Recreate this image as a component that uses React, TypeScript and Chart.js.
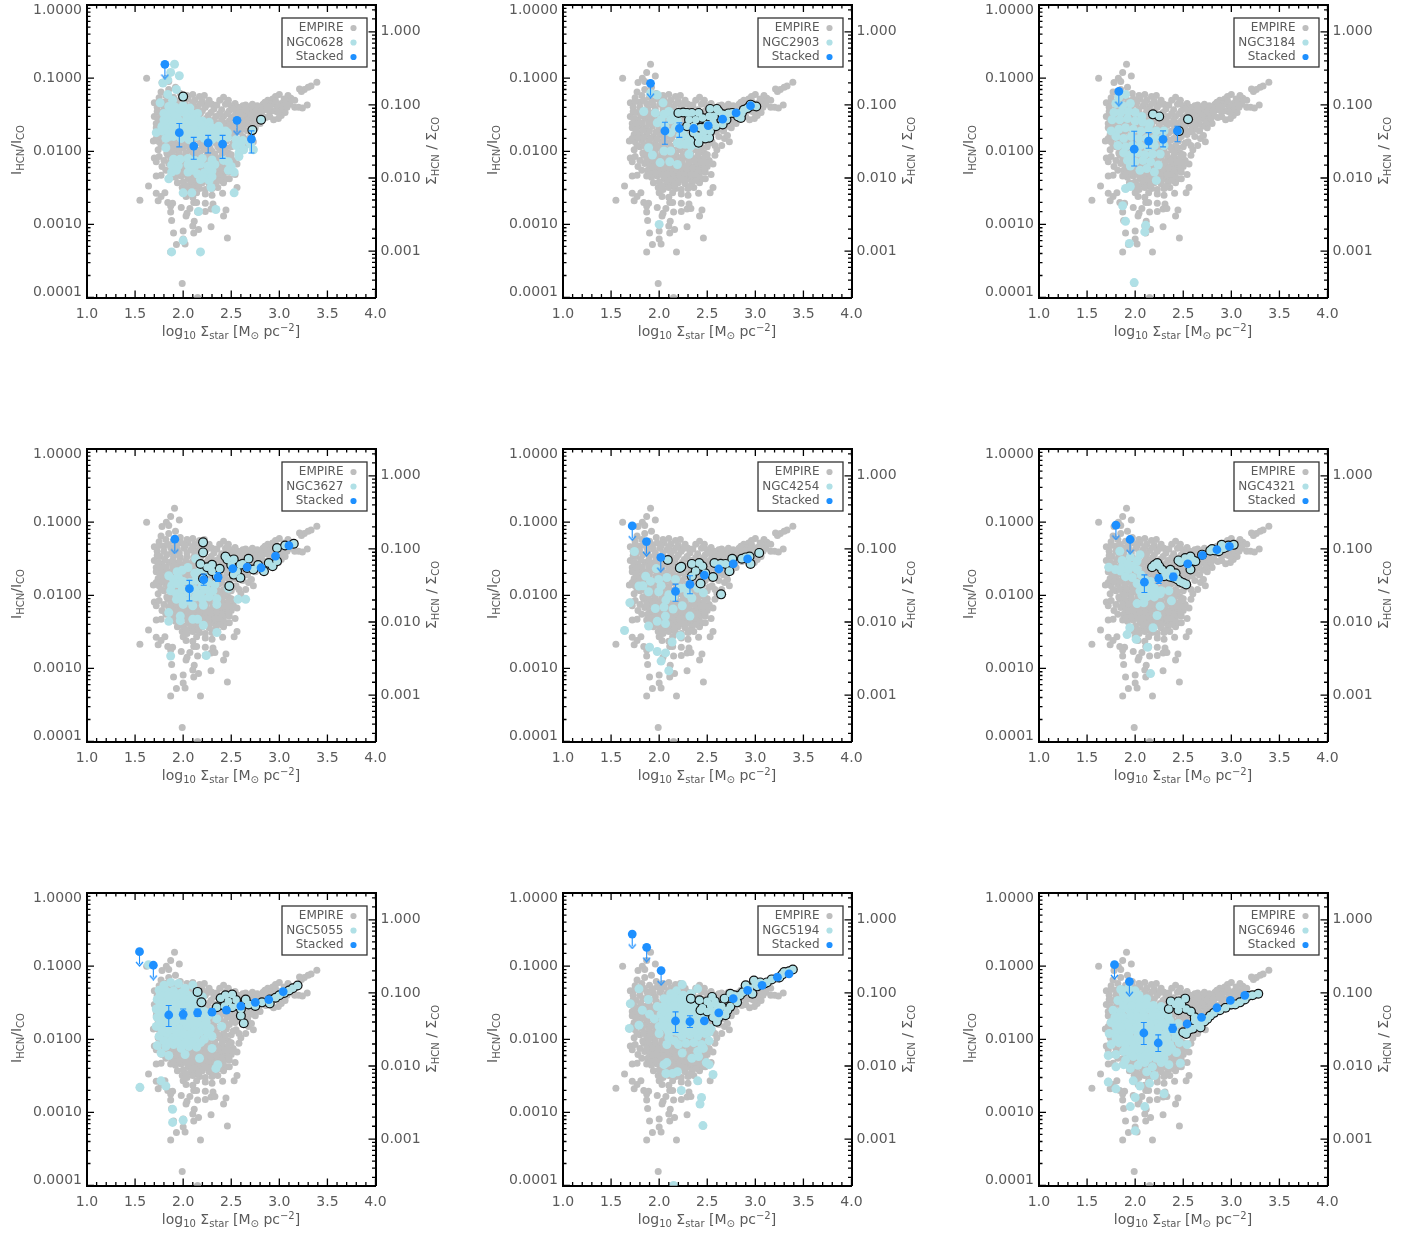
import React, { useEffect, useRef } from "react";
import { Chart, registerables } from "chart.js";

Chart.register(...registerables);

type P = number[];

const xTicksMin = 1.0;
const xTicksMax = 4.0;
const yLeftMin = 0.0001;
const yLeftMax = 1.0;
const yRightMin = 0.000232;
const yRightMax = 2.32;

const legendEmpire = "EMPIRE";
const legendStacked = "Stacked";

const empire: P[] = [
[3.39,.088],[3.33,.078],[3.3,.075],[3.26,.07],[3.23,.066],[3.21,.071],[3.16,.05],[3.12,.053],[3.09,.058],[3.05,.052],[3.0,.06],[2.96,.056],[2.93,.052],[3.02,.045],[3.07,.047],[3.11,.044],[3.16,.04],[3.2,.04],[3.24,.039],[3.29,.043],[2.88,.05],[2.83,.044],[2.87,.043],[2.91,.045],[2.95,.044],[2.98,.04],[3.03,.037],[3.06,.034],[3.02,.031],[2.97,.035],[2.93,.036],[2.89,.036],[2.85,.037],[2.8,.04],[2.77,.042],[2.73,.038],[2.69,.04],[2.65,.043],[2.62,.042],[2.7,.034],[2.74,.032],[2.78,.033],[2.82,.031],[2.86,.029],[2.9,.03],[2.94,.027],[2.99,.028],[2.76,.028],[2.72,.027],[2.68,.029],[2.64,.032],[2.6,.036],[2.57,.04],[2.54,.045],[2.5,.042],[2.47,.05],[2.42,.055],[2.38,.05],[2.8,.024],[2.75,.021],[2.7,.022],[2.66,.024],[2.62,.026],[2.58,.029],[2.55,.033],[2.67,.019],[2.63,.02],[2.59,.022],[2.55,.024],[2.62,.016],[2.68,.015],[2.73,.0135],[2.71,.0165],[2.65,.012],[2.58,.012],[2.6,.0105],[2.55,.0135],[2.54,.017],[2.52,.02],[2.58,.0088],[2.52,.0075],[2.47,.0095],[2.5,.0115],
[1.91,.155],[1.87,.12],[1.96,.107],[1.825,.1],[1.62,.1],[1.78,.087],[1.85,.09],[1.77,.065],[1.85,.07],[1.92,.075],[1.97,.062],[2.04,.058],[2.1,.06],[2.17,.056],[2.22,.058],[2.27,.05],[2.3,.044],[2.2,.048],[2.12,.05],[2.05,.052],[1.98,.052],[1.9,.055],[1.82,.058],[1.75,.054],[1.7,.046],[1.73,.04],[1.8,.047],[1.87,.045],[1.94,.043],[2.01,.044],[2.08,.042],[2.15,.041],[2.23,.04],[2.32,.038],[2.4,.037],[2.48,.036],
[1.7,.03],[1.76,.034],[1.83,.036],[1.9,.034],[1.97,.033],[2.04,.034],[2.11,.033],[2.18,.033],[2.26,.031],[2.34,.03],[2.42,.03],[2.5,.029],[1.72,.024],[1.78,.027],[1.85,.028],[1.92,.027],[1.99,.026],[2.06,.027],[2.13,.025],[2.2,.026],[2.28,.025],[2.36,.024],[2.44,.024],[1.72,.021],[1.79,.022],[1.86,.021],[1.93,.022],[2.0,.021],[2.07,.02],[2.14,.021],[2.22,.02],[2.3,.02],[2.38,.019],[2.46,.02],[1.69,.0138],[1.74,.017],[1.8,.018],[1.87,.017],[1.94,.016],[2.01,.017],[2.08,.016],[2.16,.017],[2.24,.016],[2.32,.016],[2.4,.015],[2.48,.016],[1.75,.0135],[1.82,.014],[1.89,.0135],[1.96,.013],[2.03,.0135],[2.1,.013],[2.18,.013],[2.26,.0125],[2.34,.013],[2.42,.012],[1.74,.0105],[1.8,.0115],[1.87,.011],[1.94,.0105],[2.0,.011],[2.07,.0105],[2.14,.0105],[2.22,.0105],[2.3,.01],[2.38,.0105],[2.44,.01],
[1.7,.0081],[1.72,.0072],[1.75,.0085],[1.8,.0075],[1.78,.0062],[1.84,.0088],[1.9,.0085],[1.96,.0082],[2.02,.0085],[2.08,.008],[2.14,.0082],[2.2,.0082],[2.27,.0083],[2.34,.0082],[2.4,.0085],[2.46,.008],[1.85,.0068],[1.82,.0055],[1.9,.0065],[1.96,.0068],[2.02,.0064],[2.08,.0066],[2.14,.0062],[2.2,.0066],[2.26,.0064],[2.32,.0063],[2.38,.0066],[2.44,.0062],[2.5,.0062],[2.56,.0067],[1.88,.0055],[1.94,.0053],[2.0,.0055],[2.06,.0052],[2.12,.0054],[2.18,.0052],[2.24,.0054],[2.3,.0051],[2.36,.0053],[2.42,.005],[2.48,.0052],[2.54,.0048],[1.72,.0046],[1.77,.0047],[1.87,.0046],[1.92,.0044],[1.98,.0046],[2.05,.0042],[2.12,.0044],[2.18,.0042],[2.23,.0044],[2.3,.0042],[2.36,.0044],[2.45,.0042],[2.48,.0042],[1.94,.0037],[2.0,.0038],[2.08,.0036],[2.14,.0037],[2.2,.0037],[2.27,.0036],[2.34,.0037],[2.42,.0037],[2.56,.0032],[1.64,.00335],[1.99,.0032],[2.04,.003],[2.1,.0032],[2.17,.0031],[2.23,.003],[2.3,.0031],[2.36,.0032],[1.72,.00266],[1.81,.0027],[1.77,.0024],[2.0,.0027],[2.03,.0024],[2.1,.00235],[2.41,.00266],[2.53,.0027],[2.14,.0027],[2.23,.0026],[2.3,.0025],
[1.55,.00214],[1.74,.0021],[1.84,.002],[1.89,.00195],[1.87,.00178],[2.11,.002],[2.14,.002],[2.23,.00195],[2.31,.0019],[1.98,.0017],[2.07,.00165],[1.87,.00148],[2.15,.00148],[2.23,.0015],[2.29,.00163],[2.33,.00165],[2.445,.00158],[2.04,.00142],[2.03,.0013],[2.42,.0013],[1.88,.00113],[2.115,.0011],[2.1,.00095],[2.29,.00093],[2.0,.00081],[2.16,.00085],[1.9,.00076],[2.11,.00076],[2.46,.00065],[2.0,.00063],[2.02,.00054],[1.93,.00053],[1.87,.00042],[2.18,.00042],[1.99,.000155],[2.15,.0001]
];
const empireFill: P[] = [
[1.75,.048],[1.84,.05],[1.93,.049],[2.02,.048],[2.1,.046],[2.18,.045],[2.26,.044],[2.35,.043],[2.44,.044],[1.73,.035],[1.8,.04],[1.88,.039],[1.96,.038],[2.04,.038],[2.12,.037],[2.2,.036],[2.29,.034],[2.38,.033],[2.46,.033],[2.54,.031],[1.74,.028],[1.81,.031],[1.89,.03],[1.96,.029],[2.03,.03],[2.1,.029],[2.16,.029],[2.24,.028],[2.32,.027],[2.4,.027],[2.48,.026],[2.56,.027],
[1.76,.024],[1.82,.024],[1.89,.0245],[1.96,.024],[2.03,.0235],[2.1,.023],[2.17,.023],[2.25,.0225],[2.33,.0225],[2.41,.022],[2.49,.023],[1.76,.0195],[1.83,.0195],[1.9,.019],[1.97,.0185],[2.04,.0185],[2.11,.0185],[2.19,.0185],[2.27,.018],[2.35,.018],[2.43,.0175],[2.51,.0175],[2.59,.0185],[1.72,.015],[1.78,.0155],[1.84,.0155],[1.91,.015],[1.98,.0148],[2.05,.015],[2.13,.0148],[2.21,.0145],[2.29,.0142],[2.37,.0142],[2.45,.0138],[1.77,.012],[1.84,.0122],[1.91,.012],[1.98,.0118],[2.05,.0118],[2.12,.0118],[2.2,.0115],[2.28,.0112],[2.36,.0115],[2.44,.0112],[2.52,.013],
[1.83,.0095],[1.89,.0097],[1.96,.0093],[2.03,.0095],[2.1,.0092],[2.17,.0094],[2.25,.0092],[2.33,.0092],[2.41,.0094],[2.5,.009],[1.87,.0076],[1.93,.0075],[1.99,.0073],[2.05,.0074],[2.11,.0072],[2.17,.0073],[2.24,.0074],[2.31,.0072],[2.37,.0074],[2.43,.0072],[2.49,.007],[1.93,.006],[1.99,.006],[2.05,.0059],[2.11,.0059],[2.17,.0058],[2.23,.0059],[2.29,.0057],[2.35,.0059],[2.41,.0056],[2.47,.0058],[1.9,.0049],[1.96,.005],[2.03,.0048],[2.09,.0048],[2.15,.0047],[2.21,.0048],[2.27,.0047],[2.33,.0048],[2.39,.0046],[2.03,.0034],[2.11,.0041],[2.16,.0034],[2.25,.0041],[2.32,.0033],[2.39,.004],
[2.46,.046],[2.52,.038],[2.58,.034],[2.66,.037],[2.72,.044],[2.76,.036],[2.81,.036],[2.85,.047],[2.9,.041],[2.96,.049],[2.99,.034],[3.04,.042],[3.08,.04],[2.74,.025],[2.79,.028],[2.7,.03],[2.66,.027],[2.61,.031],[2.57,.025],[2.57,.019],[2.62,.023]
];

const ngc0628Cyan: P[] = [
[1.91,.155],[1.87,.12],[1.96,.108],[1.79,.086],[1.84,.095],[1.93,.07],[1.84,.06],[1.76,.046],[1.89,.05],
[1.85,.041],[1.92,.04],[2.0,.042],[2.07,.039],[1.8,.033],[1.87,.034],[1.95,.033],[2.02,.034],[2.1,.032],[2.15,.033],[1.8,.027],[1.88,.028],[1.96,.026],[2.04,.027],[2.12,.028],[2.2,.026],[2.27,.025],[1.78,.022],[1.86,.023],[1.93,.021],[2.0,.022],[2.08,.023],[2.15,.021],[2.23,.022],[2.3,.021],[2.37,.022],[1.72,.018],[1.78,.019],[1.85,.018],[1.93,.019],[2.0,.017],[2.08,.018],[2.16,.019],[2.24,.018],[2.32,.017],[2.4,.019],[2.46,.018],[1.82,.015],[1.9,.016],[1.98,.015],[2.06,.0145],[2.14,.016],[2.22,.015],[2.3,.0145],[2.38,.015],[2.46,.0155],[2.55,.0145],[2.62,.014],[1.82,.0112],[2.55,.012],[2.6,.0125],[2.7,.0125],[2.73,.0105],[2.58,.0095],[2.63,.0105],[1.9,.0078],[1.97,.0078],[2.05,.008],[2.12,.0075],[2.2,.008],[2.3,.0076],[2.42,.0075],[2.58,.0085],[1.88,.0065],[1.95,.0064],[2.05,.0066],[2.12,.0062],[2.18,.0067],[2.26,.0063],[2.33,.0066],[2.47,.0072],[2.5,.0062],[1.88,.0052],[1.93,.0055],[2.05,.0052],[2.1,.0055],[2.15,.0049],[2.22,.0051],[2.27,.0049],[2.3,.0054],[2.47,.0055],[2.53,.0052],[1.85,.0042],[2.18,.0041],[2.22,.0043],[2.27,.004],[2.3,.0045],
[2.0,.0027],[2.09,.0027],[2.53,.0027],[2.29,.0032],[2.16,.0015],[2.34,.0016],[2.0,.0006],[1.88,.00042],[2.18,.00042],
[1.88,.037],[1.96,.037],[2.04,.03],[1.84,.03],[1.92,.03],[2.08,.028],[2.16,.026],[1.82,.024],[1.9,.025],[1.97,.024],[2.04,.024],[2.11,.024],[2.19,.023],[1.78,.021],[1.83,.02],[1.89,.02],[1.96,.0195],[2.04,.02],[2.12,.02],[2.2,.02],[2.28,.019],[2.36,.019],[2.44,.019],[1.86,.016],[1.94,.017],[2.02,.016],[2.1,.016],[2.18,.0165],[2.26,.0165],[2.34,.016]
];
const ngc0628Outlined: P[] = [[2.0,.056],[2.72,.0195],[2.81,.027]];
const ngc0628Stacked: P[] = [[1.96,.018,.0115,.024],[2.11,.0118,.0078,.0155],[2.26,.013,.0095,.0165],[2.41,.0125,.008,.0165],[2.71,.0147,.0095,.019]];
const ngc0628Limits: P[] = [[1.81,.155],[2.56,.0265]];

const ngc2903Cyan: P[] = [
[1.98,.059],[1.91,.062],[2.04,.046],[1.84,.035],[1.96,.0335],[2.05,.032],[1.98,.0245],[2.12,.027],[2.19,.026],[1.89,.0112],[1.93,.0089],[2.01,.007],[2.11,.0072],[2.19,.0066],[2.05,.0101],[2.12,.0101],[2.22,.0125],[2.31,.0091],[2.33,.0118],[2.22,.0162],[2.31,.0153],[2.4,.0125],[2.0,.001],[2.12,.018],[2.19,.013],[2.26,.02],[2.06,.022],[2.02,.027],[2.1,.035],[2.16,.032],[2.25,.0165],[2.17,.021],[2.27,.0125],[2.36,.0145]
];
const ngc2903Outlined: P[] = [[2.2,.0335],[2.25,.034],[2.29,.0335],[2.34,.0335],[2.41,.0335],[2.31,.027],[2.38,.027],[2.45,.0285],[2.52,.03],[2.53,.038],[2.6,.038],[2.57,.03],[2.66,.032],[2.76,.0335],[2.85,.0285],[2.92,.039],[2.95,.0435],[3.01,.041],[2.86,.0335],[2.29,.022],[2.36,.018],[2.41,.0131],[2.4,.0162],[2.52,.0153],[2.53,.0188],[2.46,.018],[2.59,.022],[2.66,.0233],[2.5,.0233],[2.43,.021],[2.36,.022],[2.47,.021],[2.56,.025],[2.7,.027],[2.82,.03],[2.88,.037],[2.48,.015],[2.42,.015],[2.62,.035],[2.72,.033],[2.97,.042]];
const ngc2903Stacked: P[] = [[2.06,.019,.0125,.025],[2.21,.0205,.0155,.0245],[2.36,.0205,.019,.022],[2.51,.0225,.021,.024],[2.66,.0275,.026,.029],[2.8,.0335,.032,.035],[2.95,.042,.04,.044]];
const ngc2903Limits: P[] = [[1.91,.085]];

const ngc3184Cyan: P[] = [
[1.83,.055],[1.9,.06],[1.8,.045],[1.87,.042],[1.95,.045],[1.78,.034],[1.85,.034],[1.93,.035],[2.0,.034],[2.07,.03],[1.76,.027],[1.84,.027],[1.92,.028],[2.0,.026],[2.08,.025],[2.15,.024],[1.75,.019],[1.83,.02],[1.9,.021],[1.98,.02],[2.06,.019],[2.14,.02],[2.22,.019],[2.3,.019],[1.8,.016],[1.88,.015],[1.96,.016],[2.04,.015],[2.12,.015],[2.2,.015],[2.28,.015],[1.82,.012],[1.9,.0115],[1.97,.012],[2.05,.012],[2.13,.0115],[2.2,.012],[2.3,.012],[1.88,.0095],[1.95,.009],[2.03,.0095],[2.1,.009],[2.18,.0092],[2.26,.0092],[1.92,.0075],[2.0,.0072],[2.08,.0075],[2.16,.0072],[2.24,.0065],[1.95,.0063],[2.05,.0055],[2.12,.0058],[2.2,.0052],[2.22,.004],[1.9,.0031],[1.95,.0033],[1.87,.0018],[1.9,.0011],[1.94,.00055],[2.11,.00097],[2.1,.00079],[1.99,.00016]
];
const ngc3184Outlined: P[] = [[2.185,.032],[2.25,.03],[2.55,.0275],[2.455,.0189]];
const ngc3184Stacked: P[] = [[1.99,.0107,.0063,.0188],[2.14,.0138,.011,.018],[2.29,.0146,.0115,.019],[2.44,.019,.0135,.022]];
const ngc3184Limits: P[] = [[1.83,.066]];

const ngc3627Cyan: P[] = [
[2.13,.0316],[1.937,.021],[1.9,.0165],[1.95,.0175],[1.85,.0185],[1.99,.022],[2.05,.024],[2.12,.02],[2.18,.022],[2.25,.021],[1.88,.0135],[1.94,.0145],[2.0,.0155],[2.07,.015],[2.13,.016],[2.2,.0135],[2.26,.015],[2.33,.014],[1.87,.0115],[1.93,.0105],[1.99,.012],[2.05,.011],[2.12,.012],[2.18,.0105],[2.24,.012],[2.31,.0115],[1.93,.0088],[1.99,.0092],[2.06,.0085],[2.13,.0095],[2.2,.0088],[2.27,.0095],[2.35,.009],[2.0,.0075],[2.1,.0072],[2.21,.0073],[2.35,.0075],[2.57,.0088],[2.65,.0088],[2.47,.0125],
[1.85,.0058],[1.85,.0044],[1.97,.0052],[1.97,.0045],[2.1,.0047],[2.15,.0047],[2.21,.0039],[2.35,.0031],[1.87,.00148],[2.24,.0015]
];
const ngc3627Outlined: P[] = [[2.207,.053],[2.207,.0386],[2.18,.0268],[2.25,.0242],[2.3,.0213],[2.3,.0262],[2.38,.0231],[2.44,.034],[2.46,.031],[2.526,.031],[2.595,.0262],[2.68,.0316],[2.56,.0213],[2.595,.0174],[2.526,.0192],[2.73,.0225],[2.84,.0213],[2.89,.0277],[2.976,.0292],[2.976,.0443],[3.06,.048],[3.15,.0507],[2.48,.0134],[2.207,.017],[2.35,.0182],[2.665,.0237],[2.78,.026],[2.62,.027],[2.5,.026],[2.93,.025]];
const ngc3627Stacked: P[] = [[2.065,.0123,.0084,.016],[2.214,.0164,.0137,.0195],[2.363,.0177,.0155,.0205],[2.516,.0232,.022,.0245],[2.665,.0243,.023,.0255],[2.81,.0238,.0225,.025],[2.96,.0344,.033,.036],[3.1,.0477,.046,.049]];
const ngc3627Limits: P[] = [[1.913,.0586]];

const ngc4254Cyan: P[] = [
[1.743,.0398],[1.97,.0232],[1.86,.0182],[1.79,.0134],[1.91,.0155],[1.995,.0165],[2.08,.0175],[2.17,.0165],[1.89,.0112],[1.995,.0112],[2.1,.0102],[2.22,.0125],[2.34,.0092],[2.46,.0108],[1.695,.0079],[1.96,.0066],[2.05,.0069],[2.145,.0065],[2.24,.0072],[2.32,.0052],[2.065,.0052],[1.98,.0044],[1.89,.0038],[2.066,.0041],[1.64,.0033],[2.22,.0028],[2.135,.0023],[1.9,.00195],[1.98,.0017],[2.066,.00163],[2.02,.00126],[2.1,.00093],[1.83,.0135],[2.02,.0135],[2.27,.0125],[2.4,.0125],[2.15,.0095],[2.3,.0105],[2.07,.0086]
];
const ngc4254Outlined: P[] = [[2.09,.0304],[2.215,.0237],[2.23,.0245],[2.34,.0269],[2.416,.0276],[2.45,.025],[2.575,.0276],[2.76,.0316],[2.69,.0269],[2.73,.0214],[2.86,.0316],[2.94,.034],[3.04,.038],[2.95,.0269],[2.34,.0182],[2.43,.0145],[2.56,.0178],[2.644,.0103],[2.48,.02],[2.38,.0215],[2.64,.027],[2.9,.033]];
const ngc4254Stacked: P[] = [[2.17,.0113,.0083,.0142],[2.32,.0141,.0105,.0185],[2.47,.0188,.0175,.02],[2.62,.0229,.022,.024],[2.77,.0269,.026,.028],[2.92,.0314,.03,.033]];
const ngc4254Limits: P[] = [[1.72,.089],[1.868,.0544],[2.017,.033]];

const ngc4321Cyan: P[] = [
[1.84,.04],[1.95,.0333],[2.05,.036],[1.725,.0242],[1.795,.0225],[1.865,.03],[1.85,.0215],[1.93,.0225],[2.02,.0295],[2.02,.0225],[1.97,.0175],[2.02,.0145],[2.09,.0125],[2.16,.0155],[2.07,.01],[2.16,.01],[2.26,.0105],[2.02,.0077],[2.09,.0079],[2.377,.0084],[2.26,.0071],[2.228,.0053],[1.944,.0036],[1.916,.0029],[2.01,.0025],[2.186,.0036],[2.13,.00195],[2.16,.00085],[1.9,.018],[2.13,.0125],[2.2,.0125],[2.27,.0115],[2.35,.0115],[2.1,.0165],[2.05,.0115],[1.87,.025],[1.97,.025],[2.06,.019],[2.12,.0095],[2.2,.0095],[1.92,.027],[2.21,.0105]
];
const ngc4321Outlined: P[] = [[2.176,.0242],[2.2,.026],[2.23,.0277],[2.25,.025],[2.28,.0224],[2.33,.0205],[2.366,.0224],[2.3,.0182],[2.36,.018],[2.4,.0174],[2.44,.0165],[2.47,.0153],[2.5,.0147],[2.53,.0141],[2.42,.02],[2.45,.03],[2.47,.0286],[2.52,.0323],[2.54,.029],[2.575,.034],[2.6,.03],[2.626,.0292],[2.575,.0225],[2.696,.036],[2.78,.0407],[2.8,.043],[2.83,.041],[2.87,.04],[2.92,.044],[2.9,.049],[2.97,.048],[3.025,.049],[2.95,.046]];
const ngc4321Stacked: P[] = [[2.096,.0151,.0109,.019],[2.245,.0169,.0145,.019],[2.397,.0179,.016,.02],[2.547,.0269,.025,.029],[2.7,.0352,.034,.037],[2.85,.042,.04,.044],[2.98,.0466,.045,.048]];
const ngc4321Limits: P[] = [[1.8,.091],[1.947,.058]];

const ngc5055Cyan: P[] = [
[1.64,.105],[1.55,.0022],[1.77,.0027],[1.82,.0023],[1.89,.0011],[1.89,.00073],[2.0,.00078],[2.34,.004],[1.8,.055],[1.87,.06],[1.95,.058],[2.02,.05],[2.1,.055],[1.75,.047],[1.83,.045],[1.9,.046],[1.98,.043],[2.05,.04],[2.13,.042],[1.73,.035],[1.8,.036],[1.88,.035],[1.95,.034],[2.03,.032],[2.1,.034],[2.2,.038],[1.72,.026],[1.8,.027],[1.87,.028],[1.95,.026],[2.03,.025],[2.1,.026],[2.18,.028],[1.73,.02],[1.8,.021],[1.88,.02],[1.96,.021],[2.03,.02],[2.1,.019],[2.18,.02],[2.26,.021],[2.35,.019],[1.72,.015],[1.8,.016],[1.88,.015],[1.96,.014],[2.04,.015],[2.12,.014],[2.2,.015],[2.28,.014],[2.4,.015],[1.75,.011],[1.83,.012],[1.9,.0105],[1.97,.011],[2.05,.01],[2.13,.011],[2.22,.01],[2.3,.011],[1.73,.0082],[1.82,.008],[1.9,.0085],[1.98,.0075],[2.06,.008],[2.14,.0078],[2.3,.0075],[1.77,.0065],[1.85,.006],[2.02,.0062],[2.17,.0055],[2.36,.0045],
[1.76,.04],[1.84,.04],[1.92,.04],[2.0,.037],[2.08,.037],[1.76,.03],[1.84,.031],[1.92,.031],[1.99,.029],[2.07,.029],[2.14,.031],[1.76,.023],[1.84,.023],[1.92,.023],[1.99,.023],[2.07,.022],[2.14,.023],[2.22,.024],[1.76,.0175],[1.84,.018],[1.92,.0175],[2.0,.0175],[2.07,.0165],[2.15,.017],[2.24,.017],[1.78,.013],[1.86,.0135],[1.93,.0125],[2.0,.012],[2.08,.012],[2.17,.0125],[2.25,.0125],[1.8,.0095],[1.87,.0095],[1.94,.0092],[2.02,.009],[2.1,.0092],[2.18,.009]
];
const ngc5055Outlined: P[] = [[2.19,.032],[2.15,.0445],[2.39,.0365],[2.44,.04],[2.51,.041],[2.47,.033],[2.51,.0275],[2.63,.0166],[2.43,.0285],[2.57,.029],[2.6,.026],[2.6,.021],[2.65,.035],[2.68,.03],[2.75,.0285],[2.82,.032],[2.9,.035],[2.96,.037],[3.0,.04],[3.05,.043],[3.14,.05],[3.19,.0545],[2.9,.031],[2.55,.0345],[2.35,.0275],[3.1,.0465]];
const ngc5055Stacked: P[] = [[1.85,.0215,.015,.029],[2.0,.022,.019,.026],[2.15,.023,.0205,.026],[2.3,.0235,.0215,.026],[2.45,.025,.023,.027],[2.6,.0285,.027,.03],[2.75,.032,.031,.033],[2.89,.035,.034,.036],[3.04,.045,.044,.046]];
const ngc5055Limits: P[] = [[1.546,.158],[1.69,.103]];

const ngc5194Cyan: P[] = [
[1.79,.049],[1.7,.0307],[1.69,.0141],[1.79,.0156],[1.825,.025],[1.887,.035],[2.24,.056],[2.4,.049],[2.33,.042],[2.56,.0033],[2.4,.0027],[2.23,.002],[2.44,.0016],[2.425,.0013],[2.455,.00066],[2.15,.0001],
[1.9,.022],[1.98,.028],[2.05,.036],[2.12,.042],[2.18,.046],[2.25,.04],[1.95,.019],[2.02,.022],[2.09,.029],[2.16,.033],[2.22,.03],[2.29,.034],[2.36,.03],[2.0,.015],[2.07,.018],[2.14,.024],[2.2,.024],[2.27,.026],[2.35,.024],[2.42,.026],[2.0,.012],[2.08,.014],[2.14,.018],[2.22,.018],[2.3,.02],[2.38,.019],[2.46,.021],[2.1,.0105],[2.16,.013],[2.24,.014],[2.32,.015],[2.4,.015],[2.48,.0155],[2.54,.014],[2.08,.0085],[2.16,.0095],[2.24,.011],[2.32,.0115],[2.4,.011],[2.48,.012],[2.2,.0085],[2.28,.0088],[2.36,.009],[2.44,.0085],[2.52,.0095],[2.24,.0065],[2.34,.0055],[2.4,.0068],[2.46,.0075],[2.05,.0045],[2.08,.0048],[2.19,.0036],[2.07,.0034],[2.14,.0034],[2.52,.0045],[2.49,.0048],[2.41,.0058],
[2.04,.028],[2.1,.036],[2.16,.038],[2.22,.036],[2.05,.024],[2.11,.025],[2.17,.028],[2.24,.027],[2.31,.028],[2.38,.027],[2.04,.018],[2.1,.02],[2.17,.021],[2.25,.021],[2.33,.022],[2.41,.022],[2.06,.015],[2.13,.015],[2.2,.016],[2.28,.017],[2.36,.017],[2.44,.017],[2.1,.0125],[2.2,.0125],[2.28,.013],[2.36,.013],[2.44,.013],[2.52,.0125]
];
const ngc5194Outlined: P[] = [[2.33,.036],[2.42,.0342],[2.55,.038],[2.5,.033],[2.58,.033],[2.535,.029],[2.45,.027],[2.43,.025],[2.5,.024],[2.6,.029],[2.65,.028],[2.63,.025],[2.56,.02],[2.62,.02],[2.71,.025],[2.74,.028],[2.69,.0214],[2.6,.0174],[2.66,.022],[2.74,.042],[2.68,.036],[2.78,.04],[2.81,.032],[2.8,.036],[2.84,.04],[2.87,.044],[2.94,.05],[2.9,.0547],[3.0,.056],[2.985,.0638],[2.97,.042],[3.05,.06],[3.09,.0575],[3.02,.053],[3.12,.06],[3.17,.066],[3.25,.07],[3.28,.077],[3.35,.085],[3.3,.083],[3.39,.09],[2.56,.024]];
const ngc5194Stacked: P[] = [[2.17,.0178,.0124,.0237],[2.32,.0174,.0145,.021],[2.47,.0179,.017,.019],[2.62,.023,.022,.024],[2.77,.036,.035,.037],[2.92,.0467,.045,.048],[3.07,.0547,.053,.056],[3.23,.0708,.069,.073],[3.35,.0787,.077,.08]];
const ngc5194Limits: P[] = [[1.72,.275],[1.87,.181],[2.02,.087]];

const ngc6946Cyan: P[] = [
[1.72,.0026],[1.8,.0021],[2.0,.00056],[2.1,.0012],[2.3,.0018],[1.95,.0012],[2.0,.0016],[2.15,.0025],[2.05,.0023],[1.98,.0027],[2.2,.0032],[2.12,.0036],[1.8,.0042],[1.88,.0045],[1.95,.004],[2.03,.0044],[2.1,.0048],[2.18,.0042],[2.27,.0048],[2.35,.0045],[2.47,.0047],[1.72,.006],[1.8,.0062],[1.88,.0068],[1.95,.0063],[2.03,.0068],[2.1,.0065],[2.18,.0068],[2.26,.0064],[2.34,.0068],[2.43,.0066],[1.75,.0085],[1.83,.009],[1.9,.0085],[1.98,.0092],[2.05,.0085],[2.13,.009],[2.2,.0085],[2.28,.009],[2.36,.0085],[2.46,.009],[2.54,.0085],[1.73,.012],[1.8,.0125],[1.88,.012],[1.95,.013],[2.03,.012],[2.1,.0125],[2.18,.013],[2.25,.012],[2.33,.0125],[2.42,.012],[2.5,.0125],[1.75,.017],[1.83,.018],[1.9,.017],[1.98,.018],[2.05,.0175],[2.13,.017],[2.2,.018],[2.28,.017],[2.36,.018],[2.45,.0165],[1.77,.025],[1.85,.024],[1.93,.026],[2.0,.024],[2.08,.025],[2.15,.026],[2.22,.023],[2.3,.024],[1.82,.034],[1.9,.035],[1.97,.034],[2.05,.033],[2.12,.036],[1.85,.048],[1.93,.05],[2.0,.046],
[1.9,.0075],[1.98,.0075],[2.06,.0074],[2.14,.0075],[2.22,.0075],[2.3,.0076],[2.38,.0075],[1.8,.0105],[1.87,.0105],[1.94,.0105],[2.02,.0105],[2.09,.0105],[2.17,.0105],[2.25,.0105],[2.33,.0105],[2.42,.0105],[1.8,.015],[1.86,.0145],[1.93,.015],[2.01,.0145],[2.08,.015],[2.16,.015],[2.24,.0145],[2.32,.0145],[2.4,.0145],[1.79,.02],[1.87,.0205],[1.95,.021],[2.03,.02],[2.1,.0205],[2.18,.021],[2.26,.0205],[2.34,.021],[1.88,.029],[1.96,.029],[2.04,.029],[2.12,.03],[2.19,.029],[2.27,.028],[1.88,.041],[1.96,.04],[2.04,.04],[1.98,.0058],[2.06,.0055],[2.14,.0055],[2.22,.0055],[1.9,.0052],[2.3,.0055]
];
const ngc6946Outlined: P[] = [[2.37,.033],[2.42,.03],[2.45,.033],[2.48,.03],[2.52,.036],[2.35,.026],[2.53,.026],[2.58,.024],[2.62,.018],[2.56,.0135],[2.53,.0118],[2.5,.0125],[2.68,.0145],[2.65,.0155],[2.68,.017],[2.72,.0175],[2.75,.019],[2.78,.021],[2.82,.023],[2.88,.025],[2.94,.027],[3.0,.03],[3.04,.03],[3.09,.032],[3.14,.035],[3.22,.04],[3.28,.042],[3.17,.039],[2.62,.02],[2.45,.025],[2.6,.014]];
const ngc6946Stacked: P[] = [[2.09,.0122,.0085,.017],[2.24,.0089,.0068,.0115],[2.39,.014,.0125,.016],[2.54,.0162,.015,.0175],[2.69,.02,.019,.021],[2.85,.027,.026,.028],[2.99,.034,.033,.035],[3.14,.04,.039,.041]];
const ngc6946Limits: P[] = [[1.785,.105],[1.94,.0617]];

const galaxyNames = ["NGC0628","NGC2903","NGC3184","NGC3627","NGC4254","NGC4321","NGC5055","NGC5194","NGC6946"];
const cyanSets = [ngc0628Cyan,ngc2903Cyan,ngc3184Cyan,ngc3627Cyan,ngc4254Cyan,ngc4321Cyan,ngc5055Cyan,ngc5194Cyan,ngc6946Cyan];
const outlinedSets = [ngc0628Outlined,ngc2903Outlined,ngc3184Outlined,ngc3627Outlined,ngc4254Outlined,ngc4321Outlined,ngc5055Outlined,ngc5194Outlined,ngc6946Outlined];
const stackedSets = [ngc0628Stacked,ngc2903Stacked,ngc3184Stacked,ngc3627Stacked,ngc4254Stacked,ngc4321Stacked,ngc5055Stacked,ngc5194Stacked,ngc6946Stacked];
const limitSets = [ngc0628Limits,ngc2903Limits,ngc3184Limits,ngc3627Limits,ngc4254Limits,ngc4321Limits,ngc5055Limits,ngc5194Limits,ngc6946Limits];

const GREY = "#BEBEBE";
const CYAN = "#B0E0E6";
const BLUE = "#1E90FF";
const TEXT = "#5a5a5a";
const FONT = '"DejaVu Sans"';
const W = 466, H = 346;
const PL = 87, PR = 375.5, PT = 4, PB = 297.5;

const toXY = (a: P[]) => a.map((p) => ({ x: p[0], y: p[1] }));

function rich(ctx: any, segs: [string, number, number][], cx: number, cy: number, rot: number) {
  ctx.save();
  ctx.translate(cx, cy);
  ctx.rotate(rot);
  ctx.fillStyle = TEXT;
  ctx.textBaseline = "alphabetic";
  ctx.textAlign = "left";
  let total = 0;
  for (const [t, size] of segs) { ctx.font = `${size}px ${FONT}`; total += ctx.measureText(t).width; }
  let x = -total / 2;
  for (const [t, size, dy] of segs) {
    ctx.font = `${size}px ${FONT}`;
    ctx.fillText(t, x, dy);
    x += ctx.measureText(t).width;
  }
  ctx.restore();
}

const isDecade = (v: number) => Math.abs(Math.log10(v) - Math.round(Math.log10(v))) < 1e-6;
const noPad = (s: any) => { s.paddingTop = 0; s.paddingBottom = 0; s.paddingLeft = 0; s.paddingRight = 0; };

const panelPlugin = {
  id: "panelPlugin",
  beforeDraw(chart: any) {
    const items = chart.scales.y.getLabelItems();
    if (!items.__moved) {
      items.__moved = true;
      for (const it of items) {
        if (it.label === "1.0000") it.options.translation = [it.options.translation[0], it.options.translation[1] + 5];
        if (it.label === "0.0001") it.options.translation = [it.options.translation[0], it.options.translation[1] - 5];
      }
    }
  },
  afterDraw(chart: any) {
    const ctx = chart.ctx;
    const s = chart.scales;
    ctx.save();
    ctx.strokeStyle = "#000";
    ctx.lineWidth = 1.3;
    const a = chart.chartArea;
    ctx.beginPath();
    for (const t of s.x.ticks) {
      const px = s.x.getPixelForValue(t.value);
      const major = Math.abs(t.value * 2 - Math.round(t.value * 2)) < 1e-6;
      const len = major ? 7 : 3.5;
      ctx.moveTo(px, a.bottom); ctx.lineTo(px, a.bottom - len);
      ctx.moveTo(px, a.top); ctx.lineTo(px, a.top + len);
    }
    for (const t of s.y.ticks) {
      const py = s.y.getPixelForValue(t.value);
      const len = isDecade(t.value) ? 7 : 3.5;
      ctx.moveTo(a.left, py); ctx.lineTo(a.left + len, py);
    }
    for (const t of s.y2.ticks) {
      const py = s.y2.getPixelForValue(t.value);
      if (py < a.top + 1 || py > a.bottom - 1) continue;
      const len = isDecade(t.value) ? 7 : 3.5;
      ctx.moveTo(a.right, py); ctx.lineTo(a.right - len, py);
    }
    ctx.stroke();
    ctx.restore();

    rich(ctx, [["log", 14, 0], ["10", 10, 3], [" Σ", 14, 0], ["star", 10, 3], [" [M", 14, 0], ["⊙", 10, 3], [" pc", 14, 0], ["−2", 10, -5], ["]", 14, 0]], 231, 336, 0);
    rich(ctx, [["I", 14, 0], ["HCN", 10, 3], ["/I", 14, 0], ["CO", 10, 3]], 21, 150, -Math.PI / 2);
    rich(ctx, [["Σ", 14, 0], ["HCN", 10, 3], [" / ", 14, 0], ["Σ", 14, 0], ["CO", 10, 3]], 436, 151, -Math.PI / 2);

    const lx = a.left + 195, ly = 18, lw = 85, lh = 49;
    ctx.save();
    ctx.fillStyle = "#fff";
    ctx.fillRect(lx, ly, lw, lh);
    ctx.strokeStyle = "#333";
    ctx.lineWidth = 1.3;
    ctx.strokeRect(lx, ly, lw, lh);
    const rows: [string, string, number][] = [
      [legendEmpire, GREY, 28],
      [chart.options.plugins.panelPlugin.name, CYAN, 42.5],
      [legendStacked, BLUE, 57],
    ];
    ctx.font = `12px ${FONT}`;
    ctx.textAlign = "right";
    ctx.textBaseline = "middle";
    for (const [label, color, y] of rows) {
      ctx.fillStyle = TEXT;
      ctx.fillText(label, a.left + 256.5, y);
      ctx.fillStyle = color;
      ctx.beginPath();
      ctx.arc(a.left + 266.5, y, 3.1, 0, Math.PI * 2);
      ctx.fill();
    }
    ctx.restore();
  },
};

function Panel({ index }: { index: number }) {
  const ref = useRef<HTMLCanvasElement>(null);
  useEffect(() => {
    const arrow = document.createElement("canvas");
    arrow.width = 9; arrow.height = 6;
    const ac = arrow.getContext("2d")!;
    ac.strokeStyle = BLUE; ac.lineWidth = 1.2;
    ac.beginPath(); ac.moveTo(1, 1); ac.lineTo(4.5, 5); ac.lineTo(8, 1); ac.stroke();

    const stacked = stackedSets[index];
    const limits = limitSets[index];
    const dots = { data: toXY([...stacked, ...limits]), backgroundColor: BLUE, borderWidth: 0, pointRadius: 4.4, showLine: false };
    const errs = stacked.map((p) => ({
      data: [{ x: p[0], y: p[2] }, { x: p[0], y: p[3] }],
      showLine: true, borderColor: BLUE, borderWidth: 1.1, pointStyle: "line", pointRadius: 3, pointBorderColor: BLUE, pointBorderWidth: 1.1, backgroundColor: BLUE,
    }));
    const arrows = limits.map((p) => ({
      data: [{ x: p[0], y: p[1] }, { x: p[0], y: p[1] * 0.68 }],
      showLine: true, borderColor: BLUE, borderWidth: 1.1, pointStyle: ["circle", arrow], pointRadius: [0, 4], backgroundColor: BLUE,
    }));
    const outIn = { data: toXY(outlinedSets[index]), backgroundColor: CYAN, borderWidth: 0, pointRadius: 3.8, showLine: false };
    const outBlack = { data: toXY(outlinedSets[index]), backgroundColor: "#111", borderWidth: 0, pointRadius: 5, showLine: false };
    const cyan = { data: toXY(cyanSets[index]), backgroundColor: CYAN, borderWidth: 0, pointRadius: 4.5, showLine: false };
    const grey = { data: toXY([...empire, ...empireFill]), backgroundColor: GREY, borderWidth: 0, pointRadius: 3.5, showLine: false };

    const tickFont = { family: "DejaVu Sans", size: 14 };
    const chart = new Chart(ref.current!, {
      type: "scatter",
      data: { datasets: [dots, ...errs, ...arrows, outIn, outBlack, cyan, grey] as any },
      plugins: [panelPlugin as any],
      options: {
        animation: false,
        responsive: false,
        layout: { padding: 0 },
        plugins: { legend: { display: false }, tooltip: { enabled: false }, panelPlugin: { name: galaxyNames[index] } } as any,
        scales: {
          x: {
            type: "linear", position: "bottom", min: xTicksMin, max: xTicksMax,
            grid: { display: false, drawTicks: false },
            border: { display: true, color: "#000", width: 2 },
            ticks: {
              stepSize: 0.1, autoSkip: false, maxRotation: 0, padding: 8, color: TEXT, font: tickFont,
              callback: (v: any) => (Math.abs(v * 2 - Math.round(v * 2)) < 1e-6 ? Number(v).toFixed(1) : ""),
            },
            afterFit: (s: any) => { s.height = H - PB; noPad(s); },
          },
          x2: {
            type: "linear", position: "top", min: xTicksMin, max: xTicksMax,
            grid: { display: false, drawTicks: false },
            border: { display: true, color: "#000", width: 2 },
            ticks: { display: false, stepSize: 0.1 },
            afterFit: (s: any) => { s.height = PT; noPad(s); },
          },
          y: {
            type: "logarithmic", position: "left", min: yLeftMin, max: yLeftMax,
            grid: { display: false, drawTicks: false },
            border: { display: true, color: "#000", width: 2 },
            ticks: {
              autoSkip: false, padding: 5, color: TEXT, font: tickFont,
              callback: (v: any) => (isDecade(v) ? Number(v).toFixed(4) : ""),
            },
            afterFit: (s: any) => { s.width = PL; noPad(s); },
          },
          y2: {
            type: "logarithmic", position: "right", min: yRightMin, max: yRightMax,
            grid: { display: false, drawTicks: false },
            border: { display: true, color: "#000", width: 2 },
            ticks: {
              autoSkip: false, padding: 5, color: TEXT, font: tickFont,
              callback: (v: any) => (isDecade(v) ? Number(v).toFixed(3) : ""),
            },
            afterFit: (s: any) => { s.width = W - PR; noPad(s); },
          },
        },
      } as any,
    });
    return () => chart.destroy();
  }, [index]);
  const col = index % 3, row = Math.floor(index / 3);
  return <canvas ref={ref} width={W} height={H} style={{ position: "absolute", left: col * 476, top: row * 444, width: W, height: H }} />;
}

export default function App() {
  return (
    <div style={{ position: "absolute", left: 0, top: 0, width: 1418, height: 1234, overflow: "hidden", background: "#fff" }}>
      {galaxyNames.map((_, i) => <Panel key={i} index={i} />)}
    </div>
  );
}
